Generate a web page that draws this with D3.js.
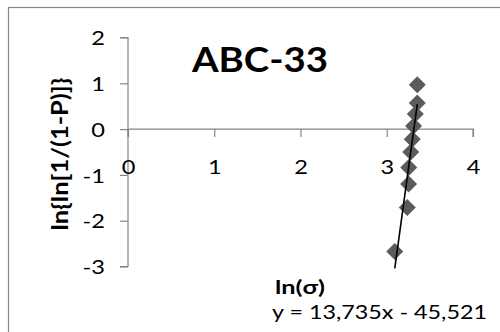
<!DOCTYPE html>
<html>
<head>
<meta charset="utf-8">
<script src="https://cdn.jsdelivr.net/npm/d3@7"></script>
<style>
  html, body { margin: 0; padding: 0; background: #fff; }
  svg { display: block; font-family: Lato, "Open Sans", sans-serif; }
</style>
</head>
<body>
<svg id="chart" width="500" height="332"></svg>
<script>
// Weibull plot data: ln(stress) vs ln(ln(1/(1-P)))
const lnSigma = [3.093, 3.238, 3.253, 3.255, 3.278, 3.296, 3.311, 3.331, 3.354, 3.354];
const lnLnP   = [-2.67, -1.71, -1.20, -0.84, -0.50, -0.22, 0.07, 0.33, 0.57, 0.97];
const xTicks = [0, 1, 2, 3, 4];
const yTicks = [-3, -2, -1, 0, 1, 2];
const slope = 13.735, intercept = -45.521;
const title = "ABC-33";
const xTitle = "ln(σ)";
const yTitle = "ln{ln[1/(1-P)]}";
const equation = "y = 13,735x - 45,521";

const svg = d3.select("#chart");
const axisColor = "#868686";
const stretch = 1.18; // horizontal widening of the text faces

// chart frame
svg.append("rect")
  .attr("x", 8.5).attr("y", 7.5)
  .attr("width", 520).attr("height", 340)
  .attr("fill", "#fff").attr("stroke", axisColor).attr("stroke-width", 1.2);

const x = d3.scaleLinear().domain([0, 4]).range([128, 473]);
const y = d3.scaleLinear().domain([-3, 2]).range([266.5, 37.5]);

function widen(sel, k) {
  sel.each(function () {
    const w = this.getComputedTextLength();
    d3.select(this).attr("textLength", w * k).attr("lengthAdjust", "spacingAndGlyphs");
  });
}

// y axis (left, through x = 0)
const gy = svg.append("g").attr("transform", `translate(${x(0)},0)`)
  .call(d3.axisLeft(y).tickValues(yTicks).tickSize(8).tickPadding(15).tickFormat(d3.format("d")));
gy.selectAll("path, line").attr("stroke", axisColor).attr("stroke-width", 1.2);
gy.select(".domain").attr("d", `M-8,${y(2)}H0V${y(-3)}H-8`);
gy.selectAll("text").attr("font-size", 20).attr("fill", "#000")
  .attr("font-family", "Lato, sans-serif").attr("dy", "0.36em")
  .text(d => d < 0 ? "-" + Math.abs(d) : d);
widen(gy.selectAll("text"), stretch);

// x axis (through y = 0)
const gx = svg.append("g").attr("transform", `translate(0,${y(0)})`)
  .call(d3.axisBottom(x).tickValues(xTicks).tickSize(8).tickPadding(23).tickFormat(d3.format("d")));
gx.selectAll("path, line").attr("stroke", axisColor).attr("stroke-width", 1.2);
gx.select(".domain").attr("d", `M${x(0)},8V0H${x(4)}V8`);
gx.selectAll("text").attr("font-size", 20).attr("fill", "#000")
  .attr("font-family", "Lato, sans-serif");
widen(gx.selectAll("text"), stretch);

// trend line over the data range
const xMin = d3.min(lnSigma), xMax = d3.max(lnSigma);

// diamond markers
const pts = lnSigma.map((v, i) => [v, lnLnP[i]]);
svg.append("g").selectAll("path").data(pts).join("path")
  .attr("transform", d => `translate(${x(d[0])},${y(d[1])})`)
  .attr("d", "M0,-8.5L8.5,0L0,8.5L-8.5,0Z")
  .attr("fill", "#5b5b5b");

// linear fit drawn over the markers
svg.append("line")
  .attr("x1", x(xMin)).attr("y1", y(slope * xMin + intercept))
  .attr("x2", x(xMax)).attr("y2", y(slope * xMax + intercept))
  .attr("stroke", "#000").attr("stroke-width", 1.6);

// title
svg.append("text").attr("x", 260).attr("y", 72)
  .attr("text-anchor", "middle").attr("font-weight", "bold").attr("font-size", 35)
  .attr("textLength", 136).attr("lengthAdjust", "spacingAndGlyphs")
  .text(title);

// axis titles
svg.append("text").attr("transform", "translate(68,154) rotate(-90)")
  .attr("text-anchor", "middle").attr("font-weight", "bold").attr("font-size", 22)
  .attr("textLength", 153).attr("lengthAdjust", "spacingAndGlyphs")
  .text(yTitle);

svg.append("text").attr("x", 300).attr("y", 294)
  .attr("text-anchor", "middle").attr("font-weight", "bold").attr("font-size", 19)
  .attr("textLength", 50).attr("lengthAdjust", "spacingAndGlyphs")
  .text(xTitle);

// trend equation
svg.append("text").attr("x", 272).attr("y", 319)
  .attr("font-size", 19)
  .attr("textLength", 215).attr("lengthAdjust", "spacingAndGlyphs")
  .text(equation);
</script>
</body>
</html>
